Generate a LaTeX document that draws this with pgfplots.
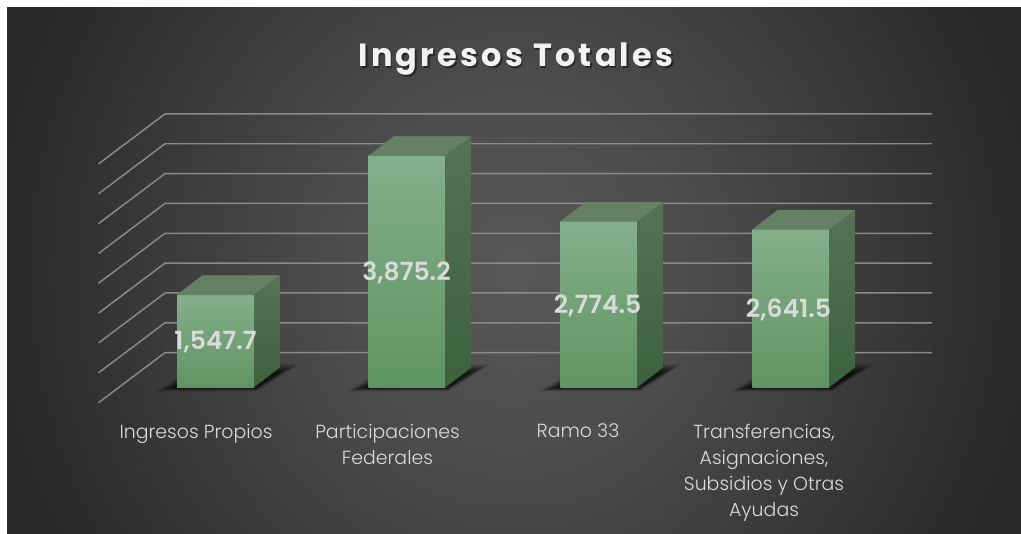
\documentclass[border=0pt]{standalone}
\usepackage{pgfplots}
\pgfplotsset{compat=1.18}
\usepackage{fontspec}
\setmainfont{Poppins}
\newfontfamily\lt{Poppins Light}
\newfontfamily\ttl[LetterSpace=10]{Poppins Bold}
\newfontfamily\lab{Poppins SemiBold}
\definecolor{bgA}{HTML}{585858}
\definecolor{bgB}{HTML}{4C4C4C}
\definecolor{bgC}{HTML}{3A3A3A}
\definecolor{bgD}{HTML}{2A2A2A}
\definecolor{bgE}{HTML}{262626}
\pgfdeclareradialshading{bgshade}{\pgfpoint{0bp}{0bp}}{color(0bp)=(bgA); color(9bp)=(bgB); color(17.5bp)=(bgC); color(25bp)=(bgD); color(30bp)=(bgE); color(50bp)=(bgE)}
\definecolor{gridc}{HTML}{8A8A8A}
\definecolor{ftop}{HTML}{84AF8A}
\definecolor{fbot}{HTML}{5F9463}
\definecolor{ttop}{HTML}{658163}
\definecolor{rtop}{HTML}{557355}
\definecolor{rbot}{HTML}{3D613D}
\definecolor{txt}{HTML}{DADADA}
\begin{document}
\begin{tikzpicture}
\path[use as bounding box] (0,0) rectangle (765.75pt,400.5pt);
\begin{scope}
\clip (5.25pt,0pt) rectangle (765.75pt,394.5pt);
\shade[shading=bgshade] (5.25pt,-200pt) rectangle (765.75pt,595pt);
\end{scope}
\begin{axis}[at={(0,0)},anchor=south west,scale only axis,width=765.75pt,height=400.5pt,
  xmin=0,xmax=1021,ymin=-2457.7,ymax=6488.5,hide axis,clip=false]
% grid lines
\pgfplotsinvokeforeach{0,500,1000,1500,2000,2500,3000,3500,4000}{
\addplot[gridc,line width=1.1pt,forget plot,y filter/.expression={y+#1}] coordinates {(98.5,-258) (165,580) (932,580)};
}
% floor shadows
\pgfplotsinvokeforeach{177,368.5,560.3,752.3}{
\addplot[fill=black,fill opacity=.12,draw=none,forget plot,x filter/.expression={x+#1}] coordinates {(-22,-70) (80,-70) (122,390) (25,390)};
\addplot[fill=black,fill opacity=.18,draw=none,forget plot,x filter/.expression={x+#1}] coordinates {(-18,-55) (79,-55) (118,360) (25,360)};
\addplot[fill=black,fill opacity=.22,draw=none,forget plot,x filter/.expression={x+#1}] coordinates {(-14,-40) (79,-40) (114,330) (25,330)};
\addplot[fill=black,fill opacity=.28,draw=none,forget plot,x filter/.expression={x+#1}] coordinates {(-10,-25) (79,-25) (109,300) (25,300)};
\addplot[fill=black,fill opacity=.3,draw=none,forget plot,x filter/.expression={x+#1}] coordinates {(-6,-12) (79,-12) (104,260) (25,260)};
}
% bars: front, top, right faces
\addplot[top color=ftop,bottom color=fbot,draw=none] coordinates {(177,0) (254,0) (254,1547.7) (177,1547.7)};
\addplot[fill=ttop,draw=ttop,line width=.2pt] coordinates {(177,1547.7) (254,1547.7) (279.5,1874.7) (202.5,1874.7) (177,1547.7)};
\addplot[top color=rtop,bottom color=rbot,draw=none] coordinates {(254,0) (279.5,327) (279.5,1874.7) (254,1547.7)};

\addplot[top color=ftop,bottom color=fbot,draw=none] coordinates {(368.5,0) (445.5,0) (445.5,3875.2) (368.5,3875.2)};
\addplot[fill=ttop,draw=ttop,line width=.2pt] coordinates {(368.5,3875.2) (445.5,3875.2) (471,4202.2) (394,4202.2) (368.5,3875.2)};
\addplot[top color=rtop,bottom color=rbot,draw=none] coordinates {(445.5,0) (471,327) (471,4202.2) (445.5,3875.2)};

\addplot[top color=ftop,bottom color=fbot,draw=none] coordinates {(560.3,0) (637.3,0) (637.3,2774.5) (560.3,2774.5)};
\addplot[fill=ttop,draw=ttop,line width=.2pt] coordinates {(560.3,2774.5) (637.3,2774.5) (662.8,3101.5) (585.8,3101.5) (560.3,2774.5)};
\addplot[top color=rtop,bottom color=rbot,draw=none] coordinates {(637.3,0) (662.8,327) (662.8,3101.5) (637.3,2774.5)};

\addplot[top color=ftop,bottom color=fbot,draw=none] coordinates {(752.3,0) (829.3,0) (829.3,2641.5) (752.3,2641.5)};
\addplot[fill=ttop,draw=ttop,line width=.2pt] coordinates {(752.3,2641.5) (829.3,2641.5) (854.8,2968.5) (777.8,2968.5) (752.3,2641.5)};
\addplot[top color=rtop,bottom color=rbot,draw=none] coordinates {(829.3,0) (854.8,327) (854.8,2968.5) (829.3,2641.5)};
% value labels
\node[text=txt,font=\lab\fontsize{18.8pt}{20pt}\selectfont] at (axis cs:215.5,760) {1,547.7};
\node[text=txt,font=\lab\fontsize{18.8pt}{20pt}\selectfont] at (axis cs:406.5,1925) {3,875.2};
\node[text=txt,font=\lab\fontsize{18.8pt}{20pt}\selectfont] at (axis cs:597.5,1360) {2,774.5};
\node[text=txt,font=\lab\fontsize{18.8pt}{20pt}\selectfont] at (axis cs:788.5,1305) {2,641.5};
% category labels
\node[text=txt,font=\lt\fontsize{14.2pt}{19.5pt}\selectfont,align=center,anchor=north] at (axis cs:196,-535) {Ingresos Propios};
\node[text=txt,font=\lt\fontsize{14.2pt}{19.5pt}\selectfont,align=center,anchor=north] at (axis cs:387.5,-535) {Participaciones\\Federales};
\node[text=txt,font=\lt\fontsize{14.2pt}{19.5pt}\selectfont,align=center,anchor=north] at (axis cs:578,-535) {Ramo 33};
\node[text=txt,font=\lt\fontsize{14.2pt}{19.5pt}\selectfont,align=center,anchor=north] at (axis cs:764,-535) {Transferencias,\\Asignaciones,\\Subsidios y Otras\\Ayudas};
% title
\node[text=black,opacity=.45,font=\ttl\fontsize{24pt}{30pt}\selectfont] at (axis cs:517.5,5470) {Ingresos Totales};
\node[text=white!95!black,font=\ttl\fontsize{24pt}{30pt}\selectfont] at (axis cs:516,5500) {Ingresos Totales};
\end{axis}
\end{tikzpicture}
\end{document}
